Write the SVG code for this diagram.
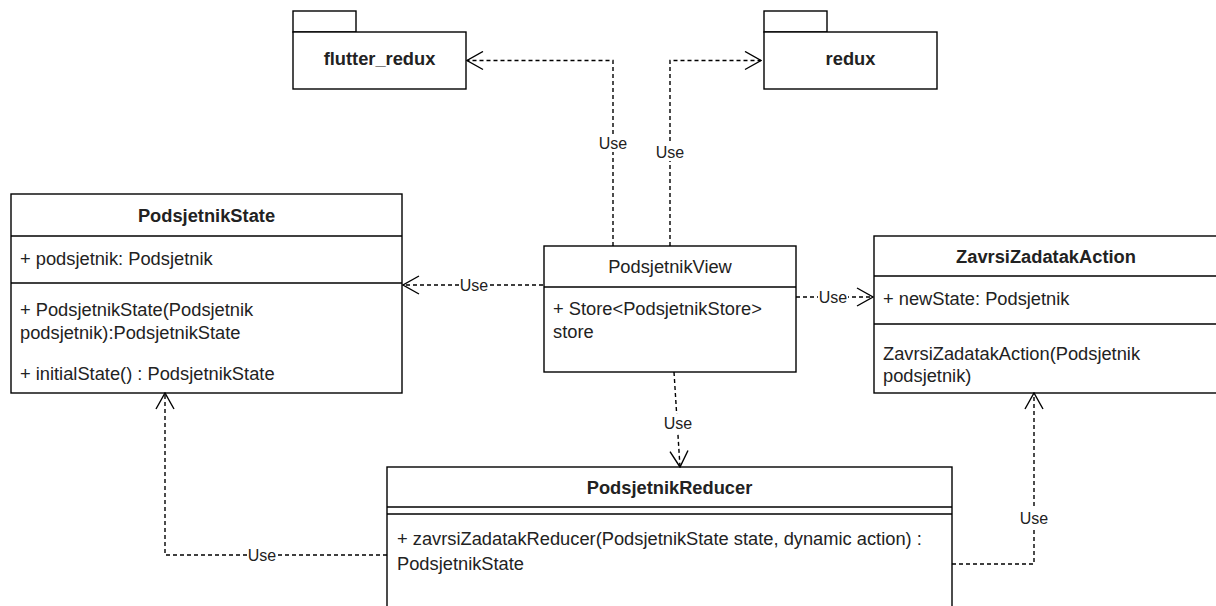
<svg xmlns="http://www.w3.org/2000/svg" width="1216" height="606" viewBox="0 0 1216 606">
  <style>
    .box { fill: #ffffff; stroke: #000000; stroke-width: 1.4; }
    .sep { stroke: #000000; stroke-width: 1.4; fill: none; }
    .t { font-family: "Liberation Sans", Arial, sans-serif; font-size: 18.3px; fill: #222222; }
    .b { font-weight: bold; }
    .c { text-anchor: middle; }
    .edge { fill: none; stroke: #000000; stroke-width: 1.4; stroke-dasharray: 4 3; marker-end: url(#open); }
    .lblbg { fill: #ffffff; }
    .lbl { font-family: "Liberation Sans", Arial, sans-serif; font-size: 16px; fill: #222222; text-anchor: middle; }
  </style>
  <defs>
    <marker id="open" viewBox="0 0 18 20" refX="17" refY="10" markerWidth="18" markerHeight="20" markerUnits="userSpaceOnUse" orient="auto">
      <path d="M1,1 L17,10 L1,19" fill="none" stroke="#000000" stroke-width="1.4"/>
    </marker>
  </defs>
  <rect width="1216" height="606" fill="#ffffff"/>

  <g id="flutter_redux">
    <rect class="box" x="293" y="11" width="63" height="21"/>
    <rect class="box" x="293" y="32" width="173" height="57"/>
    <text class="t b c" x="379.5" y="65">flutter_redux</text>
  </g>

  <g id="redux">
    <rect class="box" x="764" y="11" width="63" height="21"/>
    <rect class="box" x="764" y="32" width="173" height="57"/>
    <text class="t b c" x="850.5" y="65">redux</text>
  </g>

  <g id="PodsjetnikState">
    <rect class="box" x="11" y="194" width="391" height="199"/>
    <line class="sep" x1="11" y1="236" x2="402" y2="236"/>
    <line class="sep" x1="11" y1="283" x2="402" y2="283"/>
    <text class="t b c" x="206.5" y="221.5">PodsjetnikState</text>
    <text class="t" x="20" y="264.5">+ podsjetnik: Podsjetnik</text>
    <text class="t" x="20" y="315.5">+ PodsjetnikState(Podsjetnik</text>
    <text class="t" x="20" y="338.5">podsjetnik):PodsjetnikState</text>
    <text class="t" x="20" y="379.5">+ initialState() : PodsjetnikState</text>
  </g>

  <g id="PodsjetnikView">
    <rect class="box" x="544" y="246" width="252" height="126"/>
    <line class="sep" x1="544" y1="287" x2="796" y2="287"/>
    <text class="t c" x="670" y="273">PodsjetnikView</text>
    <text class="t" x="553" y="315">+ Store&lt;PodsjetnikStore&gt;</text>
    <text class="t" x="553" y="338">store</text>
  </g>

  <g id="ZavrsiZadatakAction">
    <rect class="box" x="874" y="236" width="344" height="157"/>
    <line class="sep" x1="874" y1="276" x2="1218" y2="276"/>
    <line class="sep" x1="874" y1="324" x2="1218" y2="324"/>
    <text class="t b c" x="1046" y="263">ZavrsiZadatakAction</text>
    <text class="t" x="883" y="305">+ newState: Podsjetnik</text>
    <text class="t" x="883" y="360">ZavrsiZadatakAction(Podsjetnik</text>
    <text class="t" x="883" y="382">podsjetnik)</text>
  </g>

  <g id="PodsjetnikReducer">
    <rect class="box" x="387" y="467" width="565" height="160"/>
    <line class="sep" x1="387" y1="507" x2="952" y2="507"/>
    <line class="sep" x1="387" y1="514" x2="952" y2="514"/>
    <text class="t b c" x="669.5" y="494">PodsjetnikReducer</text>
    <text class="t" x="397" y="545">+ zavrsiZadatakReducer(PodsjetnikState state, dynamic action) :</text>
    <text class="t" x="397" y="570">PodsjetnikState</text>
  </g>

  <g id="connectors">
    <path class="edge" d="M613,246 V60.5 H467"/>
    <path class="edge" d="M670,246 V60.5 H761"/>
    <path class="edge" d="M543,285 H403"/>
    <path class="edge" d="M796,297 H873"/>
    <path class="edge" d="M674,372 L680,467"/>
    <path class="edge" d="M387,555 H165 V393"/>
    <path class="edge" d="M952,564 H1034 V393"/>

    <rect class="lblbg" x="598" y="134" width="30" height="18"/>
    <text class="lbl" x="613" y="148.7">Use</text>
    <rect class="lblbg" x="655" y="143" width="30" height="18"/>
    <text class="lbl" x="670" y="157.7">Use</text>
    <rect class="lblbg" x="459" y="276" width="30" height="18"/>
    <text class="lbl" x="474" y="290.7">Use</text>
    <rect class="lblbg" x="818" y="288" width="30" height="18"/>
    <text class="lbl" x="833" y="302.7">Use</text>
    <rect class="lblbg" x="663" y="414" width="30" height="18"/>
    <text class="lbl" x="678" y="428.7">Use</text>
    <rect class="lblbg" x="247" y="546" width="30" height="18"/>
    <text class="lbl" x="262" y="560.7">Use</text>
    <rect class="lblbg" x="1019" y="509" width="30" height="18"/>
    <text class="lbl" x="1034" y="523.7">Use</text>
  </g>
</svg>
